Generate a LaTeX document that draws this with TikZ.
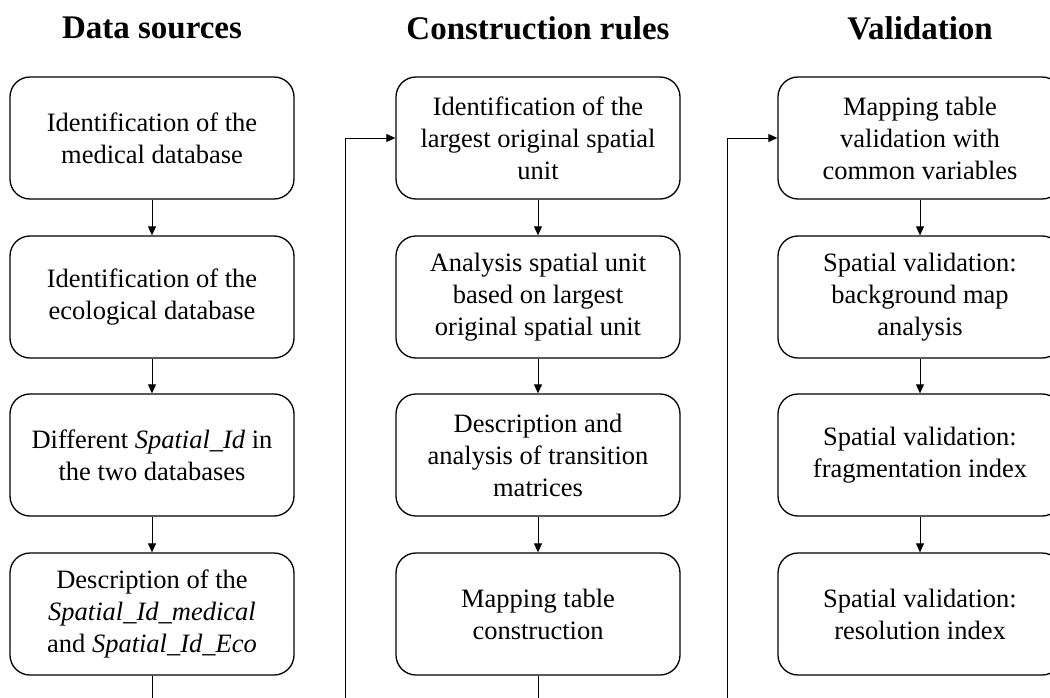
\documentclass[tikz,border=0pt]{standalone}
\usepackage{fontspec}
\setmainfont{Liberation Serif}
\usetikzlibrary{arrows.meta}
\begin{document}
\begin{tikzpicture}[x=1pt, y=-1pt, line width=0.9pt,
        >={Triangle[length=9pt,width=8pt]},
        box/.style={draw, line width=1.3pt, rounded corners=20pt,
            minimum width=284pt, minimum height=122pt, inner sep=0pt,
            align=center, font=\fontsize{26.5}{32}\selectfont},
        head/.style={font=\fontsize{33}{38}\selectfont\bfseries}]
            \useasboundingbox (0,0) rectangle (1050,698);
            \clip (0,0) rectangle (1050,698);

            \node[head] (hd) at (152,28) {Data sources};
            \node[head] (hr) at (538,28) {Construction rules};
            \node[head] (hv) at (920,28) {Validation};

            \node[box] (d1) at (152,138) {Identification of the\\medical database};
            \node[box] (d2) at (152,297) {Identification of the\\ecological database};
            \node[box] (d3) at (152,455) {Different \textit{Spatial\_Id} in\\the two databases};
            \node[box] (d4) at (152,614) {Description of the\\\textit{Spatial\_Id\_medical}\\and \textit{Spatial\_Id\_Eco}};

            \node[box] (r1) at (538,138) {Identification of the\\largest original spatial\\unit};
            \node[box] (r2) at (538,297) {Analysis spatial unit\\based on largest\\original spatial unit};
            \node[box] (r3) at (538,455) {Description and\\analysis of transition\\matrices};
            \node[box] (r4) at (538,614) {Mapping table\\construction};

            \node[box] (v1) at (920,138) {Mapping table\\validation with\\common variables};
            \node[box] (v2) at (920,297) {Spatial validation:\\background map\\analysis};
            \node[box] (v3) at (920,455) {Spatial validation:\\fragmentation index};
            \node[box] (v4) at (920,614) {Spatial validation:\\resolution index};

            \coordinate (b1) at (345,730);
            \coordinate (b2) at (727,730);

            \draw[->] (d1) to (d2); \draw[->] (d2) to (d3); \draw[->] (d3) to (d4);
            \draw[->] (r1) to (r2); \draw[->] (r2) to (r3); \draw[->] (r3) to (r4);
            \draw[->] (v1) to (v2); \draw[->] (v2) to (v3); \draw[->] (v3) to (v4);
            \draw[->] (d4.south) |- (b1) |- (r1.west);
            \draw[->] (r4.south) |- (b2) |- (v1.west);
        \end{tikzpicture}
\end{document}
